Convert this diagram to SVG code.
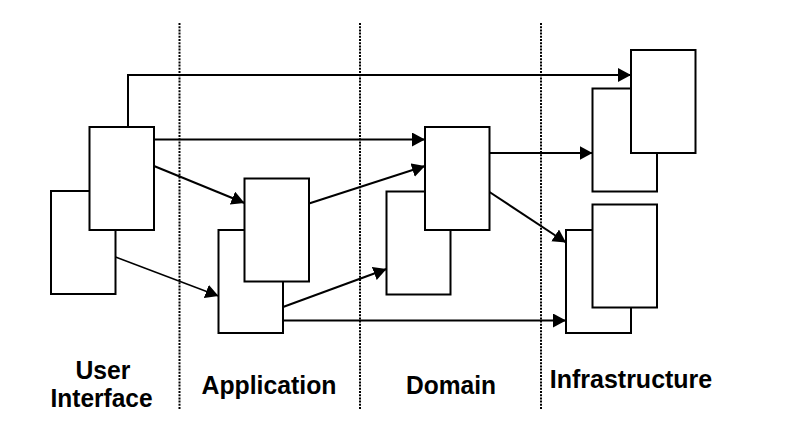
<svg xmlns="http://www.w3.org/2000/svg" width="789" height="433" viewBox="0 0 789 433">
<style>
.box{fill:#fff;stroke:#000;stroke-width:2}
.sep{stroke:#000;stroke-width:2;stroke-dasharray:2 1.2;fill:none}
.c{fill:none;stroke:#000;stroke-width:2}
.thin{stroke-width:1.4}
.lbl{font-family:"Liberation Sans",Arial,Helvetica,sans-serif;font-weight:bold;font-size:26px;fill:#000;text-anchor:middle}
</style>
<defs>
<marker id="ah" markerUnits="userSpaceOnUse" markerWidth="14" markerHeight="15" refX="13" refY="7" orient="auto">
<path d="M0,0 L13,7 L0,14 z" fill="#000"/>
</marker>
</defs>
<rect width="789" height="433" fill="#fff"/>
<g id="separators">
<line class="sep" x1="179.5" y1="23" x2="179.5" y2="409"/>
<line class="sep" x1="360" y1="23" x2="360" y2="409"/>
<line class="sep" x1="541" y1="23" x2="541" y2="409"/>
</g>
<g id="ui-back"><rect class="box" x="51" y="191" width="64.5" height="103"/></g>
<g id="ui-front"><rect class="box" x="89.5" y="127" width="64.5" height="103"/></g>
<g id="app-back"><rect class="box" x="218.5" y="230" width="64.5" height="103"/></g>
<g id="app-front"><rect class="box" x="244.5" y="178.5" width="64.5" height="103"/></g>
<g id="domain-back"><rect class="box" x="386.5" y="191.5" width="64" height="103"/></g>
<g id="domain-front"><rect class="box" x="425" y="127" width="64.5" height="103"/></g>
<g id="infra-top-back"><rect class="box" x="592.5" y="88.5" width="64.5" height="103"/></g>
<g id="infra-top-front"><rect class="box" x="631" y="50" width="64.5" height="103"/></g>
<g id="infra-bottom-back"><rect class="box" x="566" y="230" width="65" height="103"/></g>
<g id="infra-bottom-front"><rect class="box" x="592.5" y="204.5" width="64.5" height="103"/></g>
<g id="connectors">
<path class="c" d="M128,127 V75 H631" marker-end="url(#ah)"/>
<path class="c" d="M154,139.5 H425" marker-end="url(#ah)"/>
<path class="c" d="M154,166 L244.5,203" marker-end="url(#ah)"/>
<path class="c thin" d="M115.5,257 L218.5,296" marker-end="url(#ah)"/>
<path class="c" d="M309,203.5 L425,166" marker-end="url(#ah)"/>
<path class="c" d="M283,307 L386.5,269" marker-end="url(#ah)"/>
<path class="c" d="M283,320.5 H566" marker-end="url(#ah)"/>
<path class="c" d="M489.5,153 H592.5" marker-end="url(#ah)"/>
<path class="c" d="M489.5,192 L566,242.5" marker-end="url(#ah)"/>
</g>
<g id="labels">
<text class="lbl" x="103" y="378.5" textLength="55" lengthAdjust="spacingAndGlyphs">User</text>
<text class="lbl" x="101.5" y="407" textLength="102" lengthAdjust="spacingAndGlyphs">Interface</text>
<text class="lbl" x="269" y="394" textLength="135" lengthAdjust="spacingAndGlyphs">Application</text>
<text class="lbl" x="451" y="394" textLength="90" lengthAdjust="spacingAndGlyphs">Domain</text>
<text class="lbl" x="631" y="388" textLength="162.5" lengthAdjust="spacingAndGlyphs">Infrastructure</text>
</g>
</svg>
